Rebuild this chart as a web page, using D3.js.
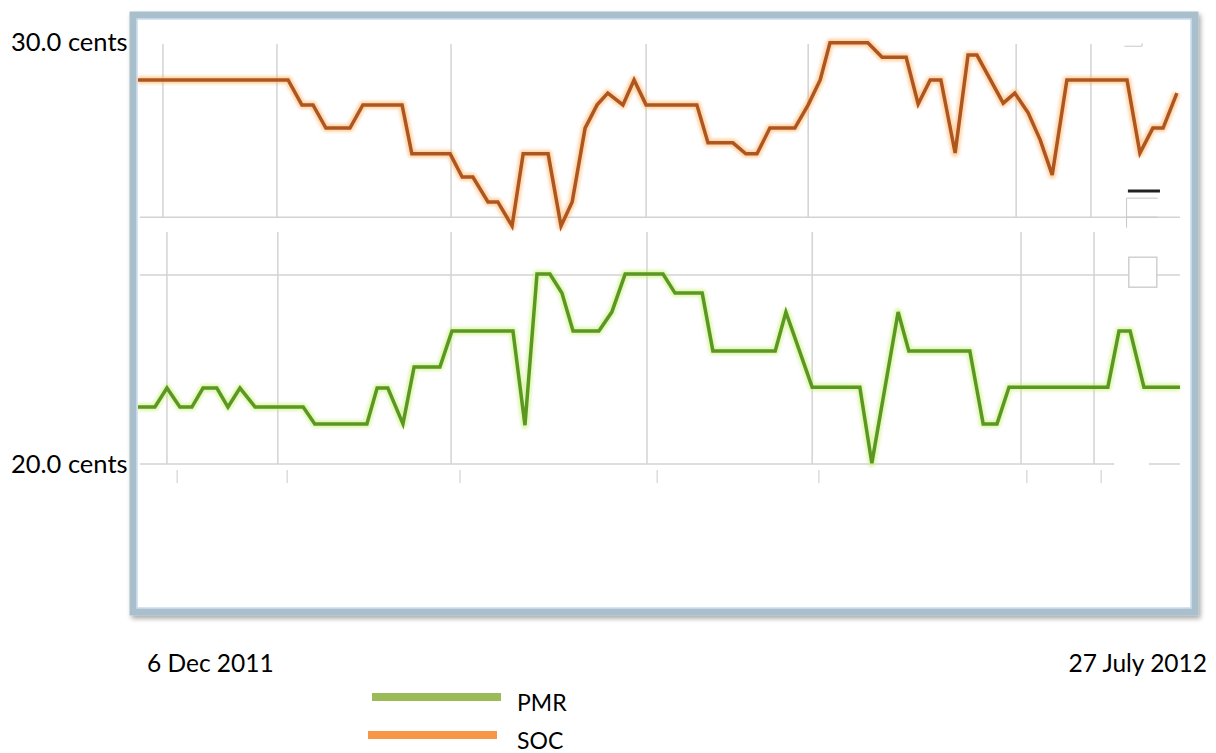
<!DOCTYPE html>
<html>
<head>
<meta charset="utf-8">
<script src="https://cdn.jsdelivr.net/npm/d3@7"></script>
<style>
  body { margin: 0; background: #fff; }
  text { font-family: Lato, "Open Sans", sans-serif; fill: #000; }
</style>
</head>
<body>
<div id="chart"></div>
<script>
// chart data: x = days since 6 Dec 2011, y = cents
var socDays = [0, 33.7, 36.8, 39.3, 42.2, 47.6, 50.5, 59.3, 61.5, 70.1, 72.8, 75.2, 78.6, 80.8, 84.0,
  86.5, 92.1, 95.0, 97.5, 100.4, 103.1, 105.5, 108.9, 111.4, 114.1, 125.5, 128.0, 133.6, 136.5,
  139.0, 141.9, 147.5, 150.5, 153.2, 155.4, 163.9, 167.1, 172.5, 175.2, 177.9, 180.3, 183.5,
  186.4, 188.4, 194.3, 196.9, 199.9, 202.6, 205.3, 208.6, 222.1, 225.0, 227.9, 230.2, 233.3];
var socCents = [29.1, 29.1, 28.51, 28.51, 27.96, 27.96, 28.51, 28.51, 27.35, 27.35, 26.8, 26.8, 26.21, 26.21, 25.64,
  27.35, 27.35, 25.64, 26.21, 27.96, 28.51, 28.79, 28.51, 29.1, 28.51, 28.51, 27.61, 27.61, 27.35,
  27.35, 27.96, 27.96, 28.51, 29.1, 29.98, 29.98, 29.64, 29.64, 28.53, 29.1, 29.1, 27.37,
  29.69, 29.69, 28.55, 28.79, 28.32, 27.68, 26.85, 29.1, 29.1, 27.37, 27.96, 27.96, 28.79];

var pmrDays = [0, 3.8, 6.5, 9.4, 12.1, 14.6, 17.7, 20.2, 22.9, 26.3, 37.1, 39.7, 51.4, 53.7, 56.1, 59.5,
  62.0, 67.8, 70.5, 84.2, 86.9, 89.6, 92.5, 95.2, 97.7, 103.5, 106.4, 109.4, 117.9, 120.6, 126.7,
  129.1, 143.1, 145.5, 151.4, 162.1, 164.8, 170.7, 173.1, 186.8, 189.8, 192.9, 195.6, 217.8,
  220.3, 222.8, 225.9, 234];
var pmrCents = [21.35, 21.35, 21.8, 21.35, 21.35, 21.8, 21.8, 21.35, 21.8, 21.35, 21.35, 20.95, 20.95, 21.8, 21.8, 20.95,
  22.3, 22.3, 23.15, 23.15, 20.92, 24.5, 24.5, 24.05, 23.15, 23.15, 23.6, 24.5, 24.5, 24.05, 24.05,
  22.68, 22.68, 23.6, 21.82, 21.82, 20.02, 23.6, 22.68, 22.68, 20.95, 20.95, 21.82, 21.82,
  23.15, 23.15, 21.82, 21.82];

var yTickValues = [30, 20];
var yTickLabels = ["30.0 cents", "20.0 cents"];
var dateLabels = ["6 Dec 2011", "27 July 2012"];
var seriesNames = ["PMR", "SOC"];

// faint grid of the pasted screenshot panels
var topGridDays = [5.6, 31.2, 70.3, 114.1, 150.5, 197.2, 214.0];
var lowGridDays = [6.5, 31.4, 70.3, 114.3, 151.4, 198.3, 214.7];
var lowTickDays = [8.8, 33.5, 72.3, 116.6, 152.9, 199.6, 216.3];
var hGridCents = [25.85, 24.48, 20];

var svgWidth = 1216;
var svgHeight = 753;

var svg = d3.select("#chart")
  .append("svg")
  .attr("width", svgWidth)
  .attr("height", svgHeight);

var defs = svg.append("defs");
var shadow = defs.append("filter").attr("id", "shadow")
  .attr("x", "-5%").attr("y", "-5%").attr("width", "110%").attr("height", "110%");
shadow.append("feGaussianBlur").attr("in", "SourceAlpha").attr("stdDeviation", 2.5);
shadow.append("feOffset").attr("dx", 2).attr("dy", 3).attr("result", "off");
shadow.append("feComponentTransfer").append("feFuncA").attr("type", "linear").attr("slope", 0.35);
var merge = shadow.append("feMerge");
merge.append("feMergeNode");
merge.append("feMergeNode").attr("in", "SourceGraphic");

var glow = defs.append("filter").attr("id", "glow")
  .attr("x", "-5%").attr("y", "-20%").attr("width", "110%").attr("height", "140%");
glow.append("feGaussianBlur").attr("stdDeviation", 1.6);

var x = d3.scaleLinear().domain([0, 234]).range([138, 1180]);
var y = d3.scaleLinear().domain([20, 30]).range([464, 42]);

// frame
svg.append("rect")
  .attr("x", 133).attr("y", 15)
  .attr("width", 1062).attr("height", 597)
  .attr("fill", "#fff")
  .attr("stroke", "#a9bfcc")
  .attr("stroke-width", 7)
  .attr("filter", "url(#shadow)");
svg.append("rect")
  .attr("x", 137).attr("y", 19)
  .attr("width", 1054).attr("height", 589)
  .attr("fill", "none")
  .attr("stroke", "#b9d3ee")
  .attr("stroke-width", 1.2);

var grid = svg.append("g")
  .attr("stroke", "#d3d3d3")
  .attr("stroke-width", 1.5)
  .attr("fill", "none");

grid.selectAll(".vtop")
  .data(topGridDays)
  .enter()
  .append("line")
  .attr("x1", d => x(d)).attr("x2", d => x(d))
  .attr("y1", y(29.95)).attr("y2", y(25.85));

grid.selectAll(".vlow")
  .data(lowGridDays)
  .enter()
  .append("line")
  .attr("x1", d => x(d)).attr("x2", d => x(d))
  .attr("y1", y(25.5)).attr("y2", y(20));

grid.selectAll(".tick")
  .data(lowTickDays)
  .enter()
  .append("line")
  .attr("stroke", "#dcdcdc")
  .attr("x1", d => x(d)).attr("x2", d => x(d))
  .attr("y1", y(19.86)).attr("y2", y(19.55));

grid.selectAll(".h")
  .data(hGridCents)
  .enter()
  .append("line")
  .attr("x1", x(0.4)).attr("x2", d => d === 20 ? x(219.2) : x(234))
  .attr("y1", d => y(d)).attr("y2", d => y(d));
grid.append("line")
  .attr("x1", x(227)).attr("x2", x(234))
  .attr("y1", y(20)).attr("y2", y(20));

// screenshot leftovers near the right edge
svg.append("rect")
  .attr("x", x(222.5)).attr("y", y(24.9))
  .attr("width", 28).attr("height", 30)
  .attr("fill", "#fff")
  .attr("stroke", "#d0d0d0")
  .attr("stroke-width", 1.5);
svg.append("line")
  .attr("x1", x(222.3)).attr("x2", x(229.5))
  .attr("y1", y(26.47)).attr("y2", y(26.47))
  .attr("stroke", "#222").attr("stroke-width", 3);
svg.append("path")
  .attr("d", `M${x(222)},${y(26.3)}V${y(25.6)}M${x(222)},${y(26.3)}H${x(229)}M${x(222)},${y(25.85)}H${x(229)}`)
  .attr("stroke", "#c8c8c8").attr("stroke-width", 1).attr("fill", "none");
svg.append("path")
  .attr("d", `M${x(221.5)},${y(29.9)}H${x(225.5)}V${y(29.97)}`)
  .attr("stroke", "#c8c8c8").attr("stroke-width", 1).attr("fill", "none");

var line = d3.line()
  .x(d => x(d[0]))
  .y(d => y(d[1]));

var socData = socDays.map((d, i) => [d, socCents[i]]);
var pmrData = pmrDays.map((d, i) => [d, pmrCents[i]]);

function drawSeries(data, haloColor, coreColor) {
  svg.append("path")
    .datum(data)
    .attr("d", line)
    .attr("fill", "none")
    .attr("stroke", haloColor)
    .attr("stroke-width", 8)
    .attr("stroke-linejoin", "round")
    .attr("opacity", 0.55)
    .attr("filter", "url(#glow)");
  svg.append("path")
    .datum(data)
    .attr("d", line)
    .attr("fill", "none")
    .attr("stroke", coreColor)
    .attr("stroke-width", 3.5)
    .attr("stroke-linejoin", "miter");
}

drawSeries(socData, "#ffb060", "#ad561f");
drawSeries(pmrData, "#c9ef78", "#5a9821");

// y labels
svg.selectAll(".ylab")
  .data(yTickValues)
  .enter()
  .append("text")
  .attr("x", 11)
  .attr("y", d => y(d))
  .attr("dy", "0.35em")
  .style("font-size", "25.5px")
  .text((d, i) => yTickLabels[i]);

// date labels
svg.append("text")
  .attr("x", 147).attr("y", 672)
  .style("font-size", "24.5px")
  .text(dateLabels[0]);
svg.append("text")
  .attr("x", 1207).attr("y", 672)
  .attr("text-anchor", "end")
  .style("font-size", "24.5px")
  .text(dateLabels[1]);

// legend
var legendColors = ["#9bbb59", "#f79646"];
var legend = svg.selectAll(".legend")
  .data(seriesNames)
  .enter()
  .append("g")
  .attr("transform", (d, i) => `translate(${372 - i * 4}, ${697 + i * 38})`);
legend.append("rect")
  .attr("x", 0).attr("y", -4)
  .attr("width", 129).attr("height", 8)
  .attr("fill", (d, i) => legendColors[i]);
legend.append("text")
  .attr("x", (d, i) => 145 + i * 4)
  .attr("y", 6)
  .attr("dy", "0.35em")
  .style("font-size", "23px")
  .text(d => d);
</script>
</body>
</html>
